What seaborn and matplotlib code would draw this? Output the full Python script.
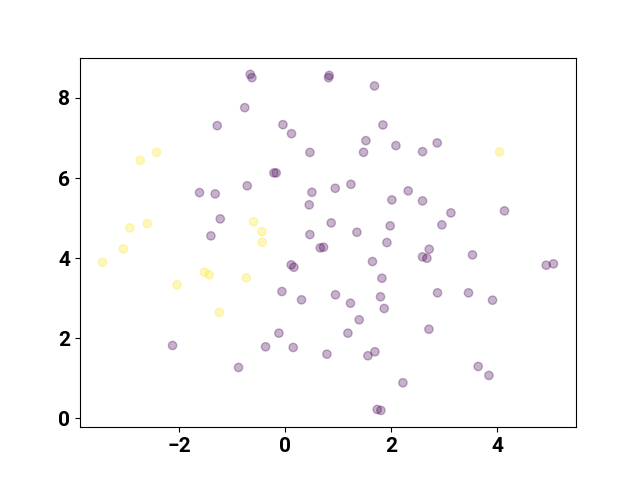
import numpy as np
import pandas as pd
import matplotlib
matplotlib.use("Agg")
import matplotlib.pyplot as plt
import seaborn as sns

# cluster 0 (purple)
x0 = [-0.664, -0.632, 0.826, 0.813, 1.681, -0.768, -1.287, -0.047, 0.115, 1.840,
      1.519, 2.085, 1.474, 0.462, 2.864, 2.587, -0.217, -0.174, -0.721, -1.621,
      -1.325, 0.500, 0.940, 1.236, 0.449, 2.317, 2.009, 2.587, 3.123, 2.953,
      4.134, 0.864, 1.977, 1.349, 0.462, 1.915, -1.230, -1.406, 0.657, 0.719,
      0.109, 0.160, 1.643, 1.821, -0.066, 0.304, 0.945, 1.228, 1.794, 1.864,
      1.392, -0.123, 1.179, -0.375, 0.147, 0.783, 1.557, 1.689, 2.217, 1.732,
      1.802, 2.713, 2.587, 2.670, 3.530, 4.921, 5.058, 2.870, 3.455, 3.908,
      2.708, 3.638, 3.840, -2.130, -0.885]
y0 = [8.588, 8.506, 8.563, 8.506, 8.299, 7.758, 7.309, 7.334, 7.109, 7.326,
      6.934, 6.810, 6.643, 6.640, 6.877, 6.660, 6.129, 6.129, 5.807, 5.637,
      5.605, 5.645, 5.745, 5.844, 5.331, 5.680, 5.455, 5.430, 5.131, 4.832,
      5.181, 4.881, 4.807, 4.647, 4.590, 4.390, 4.981, 4.557, 4.258, 4.273,
      3.834, 3.774, 3.916, 3.500, 3.168, 2.961, 3.086, 2.876, 3.036, 2.744,
      2.462, 2.128, 2.128, 1.788, 1.771, 1.604, 1.564, 1.664, 0.890, 0.224,
      0.200, 4.223, 4.033, 3.998, 4.083, 3.824, 3.859, 3.135, 3.135, 2.951,
      2.227, 1.297, 1.073, 1.821, 1.272]

# cluster 1 (yellow)
x1 = [-2.740, -2.432, -2.934, -2.608, -0.602, -0.443, -0.438, -0.740, -3.451,
      -3.060, -1.526, -1.438, -2.047, -1.249, 4.040]
y1 = [6.443, 6.643, 4.757, 4.864, 4.906, 4.664, 4.398, 3.510, 3.899,
      4.233, 3.649, 3.584, 3.335, 2.644, 6.652]

df = pd.DataFrame({
    "x": x0 + x1,
    "y": y0 + y1,
    "label": [0] * len(x0) + [1] * len(x1),
})

fig, ax = plt.subplots(figsize=(6.4, 4.8), dpi=100)
sns.scatterplot(data=df, x="x", y="y", hue="label",
                palette=["#440154", "#fde725"], alpha=0.3, s=36,
                edgecolor="face", linewidth=1.0, legend=False, ax=ax)
ax.set_xlabel("")
ax.set_ylabel("")
ax.set_xticks([-2, 0, 2, 4])
ax.set_yticks([0, 2, 4, 6, 8])
for lab in ax.get_xticklabels() + ax.get_yticklabels():
    lab.set_fontfamily("Roboto")
    lab.set_fontweight("bold")
    lab.set_fontsize(15)

fig.savefig("out.png", dpi=100)
